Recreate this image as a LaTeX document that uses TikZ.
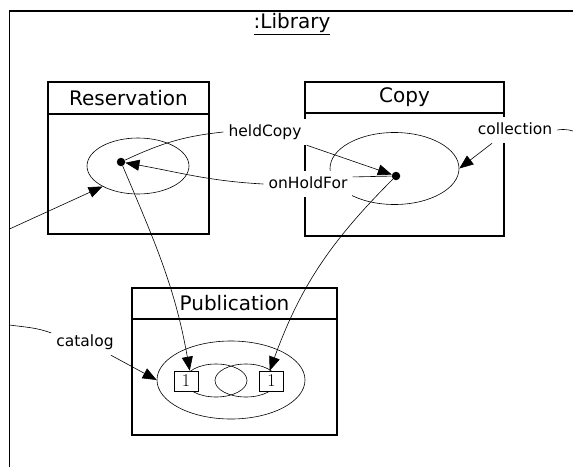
\documentclass[tikz,border=0pt]{standalone}
\usepackage{fontspec}
\usepackage{tikz}
\usetikzlibrary{arrows.meta,shapes.geometric}
\usetikzlibrary{positioning}
\newfontfamily\comic{DejaVu Sans}
\tikzset{>={Triangle[length=14pt,width=11pt]}}

\begin{document}
\begin{tikzpicture}[x=1pt, y=1pt,
		objbox/.style={draw, line width=1.4pt, rectangle, inner sep=0pt},
		hdr/.style={draw, line width=1.4pt, rectangle, inner sep=0pt, minimum height=32pt, anchor=north, font=\comic\fontsize{20}{20}\selectfont},
		valset/.style={draw, ellipse, inner sep=0pt, line width=0.6pt},
		mult/.style={draw, fill=white, inner sep=0pt, minimum width=24pt, minimum height=20pt, line width=0.6pt, font=\fontsize{18}{18}\selectfont},
		role/.style={fill=white, inner xsep=5pt, inner ysep=5pt, text height=12pt, text depth=4pt, font=\comic\fontsize{15.5}{15.5}\selectfont},
		objdot/.style={circle, fill, inner sep=0pt, minimum size=8.5pt},
		link/.style={line width=0.6pt}]
		\useasboundingbox (0,0) rectangle (573,-466);
		% library frame
		\draw[line width=1.4pt] (9.5,-11) rectangle (640,-520);
		\node[font=\comic\fontsize{20}{20}\selectfont] (lib) at (292,-24) {\underline{:Library}};
		\coordinate (libL1) at (9.5,-229);
		\coordinate (libL2) at (9.5,-325);
		\coordinate (libR) at (600,-142);
		% classes
		\node[objbox, minimum width=161pt, minimum height=152pt] (res) at (128.5,-158) {};
		\node[hdr, minimum width=161pt] (reshdr) at (res.north) {Reservation};
		\node[objbox, minimum width=199pt, minimum height=154pt] (copy) at (404.5,-159) {};
		\node[hdr, minimum width=199pt, minimum height=31pt] (copyhdr) at (copy.north) {Copy};
		\node[objbox, minimum width=205pt, minimum height=147pt] (pub) at (234.5,-361.5) {};
		\node[hdr, minimum width=205pt, minimum height=31pt] (pubhdr) at (pub.north) {Publication};
		% value sets
		\node[valset, minimum width=102pt, minimum height=56pt] (resset) at (138,-166) {};
		\node[valset, minimum width=129pt, minimum height=72pt] (copyset) at (394.5,-168.5) {};
		\node[valset, minimum width=148pt, minimum height=78pt] (pubset) at (231,-380) {};
		\node[valset, minimum width=62pt, minimum height=33pt] (pubsetL) at (216,-380.5) {};
		\node[valset, minimum width=62pt, minimum height=33pt] (pubsetR) at (246,-380.5) {};
		\node[mult] (oneL) at (186,-381) {1};
		\node[mult] (oneR) at (271.5,-381) {1};
		% objects
		\node[objdot] (resdot) at (121,-162) {};
		\node[objdot] (copydot) at (396,-176) {};
		% role names
		\node[role] (held) at (265,-132) {heldCopy};
		\node[role] (onhold) at (308,-184) {onHoldFor};
		\node[role] (coll) at (515,-130) {collection};
		\node[role] (cat) at (85,-342) {catalog};
		% links
		\draw[link, ->] (libL1) -- (resset.210);
		\draw[link] (resdot) to[out=25, in=186] (held.west);
		\draw[link, ->] (held.south east) -- (copydot);
		\draw[link] (copydot) -- (onhold.9);
		\draw[link, ->] (onhold.west) to[out=177, in=-10] (resdot);
		\draw[link, ->] (resdot) to[out=-67, in=100] (oneL.70);
		\draw[link, ->] (copydot) to[out=-135, in=70] (oneR.100);
		\draw[link, ->] (coll.-150) -- (copyset.east);
		\draw[link] (coll.east) to[out=10, in=165] (libR);
		\draw[link] (libL2) to[out=-8, in=160] (cat.165);
		\draw[link, ->] (cat.-27) -- (pubset.west);
	\end{tikzpicture}
\end{document}
